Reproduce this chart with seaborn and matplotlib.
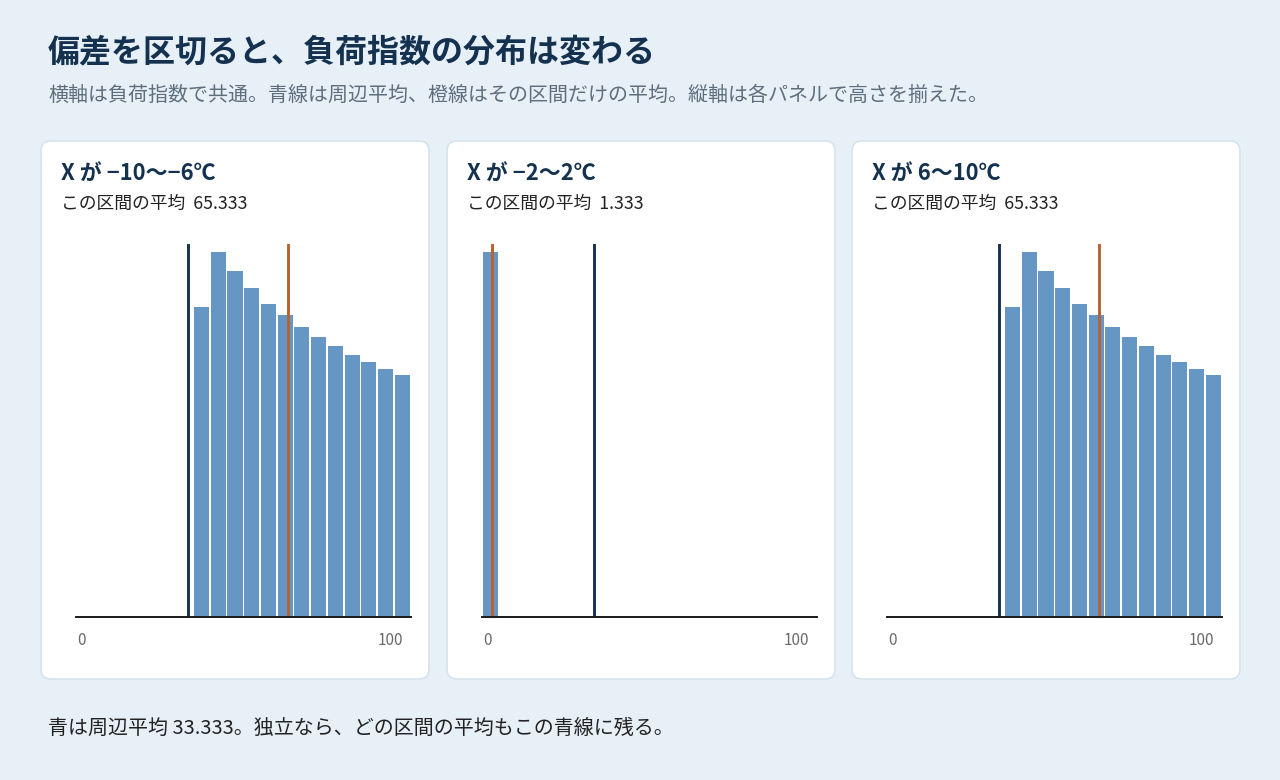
import numpy as np
import seaborn as sns
import matplotlib.pyplot as plt
from matplotlib.patches import FancyBboxPatch
from matplotlib.transforms import blended_transform_factory

sns.set_theme(style="white")
plt.rcParams['font.family'] = ['Noto Sans CJK JP', 'DejaVu Sans']

# data
bin_edges = list(range(0, 105, 5))
bin_centers = [e + 2.5 for e in bin_edges[:-1]]
# relative heights per bin (each panel scaled to the same top)
freq_cold = [0, 0, 0, 0, 0, 0, 0, 310, 365, 346, 329, 313, 302, 290, 280, 271, 262, 255, 248, 242]
freq_mid = [365, 0, 0, 0, 0, 0, 0, 0, 0, 0, 0, 0, 0, 0, 0, 0, 0, 0, 0, 0]
freq_warm = [0, 0, 0, 0, 0, 0, 0, 310, 365, 346, 329, 313, 302, 290, 280, 271, 262, 255, 248, 242]
panel_titles = ["X が −10〜−6℃", "X が −2〜2℃", "X が 6〜10℃"]
interval_means = [65.333, 1.333, 65.333]
orange_line_x = [63.4, 3.0, 63.4]
marginal_mean = 33.333

BG = "#e7eff7"
NAVY = "#14324f"
BAR = "#6596c4"
ORANGE = "#b8622f"

fig = plt.figure(figsize=(12.8, 7.8), dpi=100)
fig.patch.set_facecolor(BG)

bg = fig.add_axes([0, 0, 1, 1], zorder=0)
bg.set_xlim(0, 1280)
bg.set_ylim(780, 0)
bg.axis("off")

bg.text(48, 52, "偏差を区切ると、負荷指数の分布は変わる", fontsize=23, fontweight="bold",
        color=NAVY, va="center", ha="left")
bg.text(48, 95, "横軸は負荷指数で共通。青線は周辺平均、橙線はその区間だけの平均。縦軸は各パネルで高さを揃えた。",
        fontsize=14.4, color="#5f6e7c", va="center", ha="left")
bg.text(48, 728, f"青は周辺平均 {marginal_mean:.3f}。独立なら、どの区間の平均もこの青線に残る。",
        fontsize=14.4, color="#222222", va="center", ha="left")

card_left = [41, 447, 852]
freqs = [freq_cold, freq_mid, freq_warm]

for i in range(3):
    cx = card_left[i]
    card = FancyBboxPatch((cx, 141), 388, 538, boxstyle="round,pad=0,rounding_size=10",
                          fc="white", ec="#d5e3ee", lw=1.2)
    bg.add_patch(card)
    bg.text(cx + 20, 173, panel_titles[i], fontsize=15.8, fontweight="bold", color=NAVY,
            va="center", ha="left")
    bg.text(cx + 20, 204, f"この区間の平均  {interval_means[i]:.3f}", fontsize=12.8,
            color="#222222", va="center", ha="left")

    ax = fig.add_axes([(cx + 35) / 1280, (780 - 617) / 780, 334.7 / 1280, 373 / 780], zorder=1)
    ax.patch.set_alpha(0)
    sns.histplot(x=bin_centers, weights=freqs[i], bins=bin_edges, shrink=0.9,
                 color=BAR, alpha=1, linewidth=0, ax=ax)
    ax.axvline(marginal_mean, color=NAVY, lw=2.1, zorder=3)
    ax.axvline(orange_line_x[i], color=ORANGE, lw=2.1, zorder=4)
    ax.set_xlim(0, 100)
    ax.set_ylim(0, max(freqs[i]) * 1.022)
    for s in ["top", "left", "right"]:
        ax.spines[s].set_visible(False)
    ax.spines["bottom"].set_color("#1a1a1a")
    ax.spines["bottom"].set_linewidth(1.4)
    ax.spines["bottom"].set_zorder(5)
    ax.set_xticks([])
    ax.set_yticks([])
    ax.set_xlabel("")
    ax.set_ylabel("")
    tr = blended_transform_factory(ax.transData, ax.transAxes)
    ax.text(0.3, -0.064, "0", transform=tr, ha="left", va="center", fontsize=11, color="#6b6b6b")
    ax.text(97.8, -0.064, "100", transform=tr, ha="right", va="center", fontsize=11, color="#6b6b6b")

fig.savefig("out.png", dpi=100, facecolor=BG)
